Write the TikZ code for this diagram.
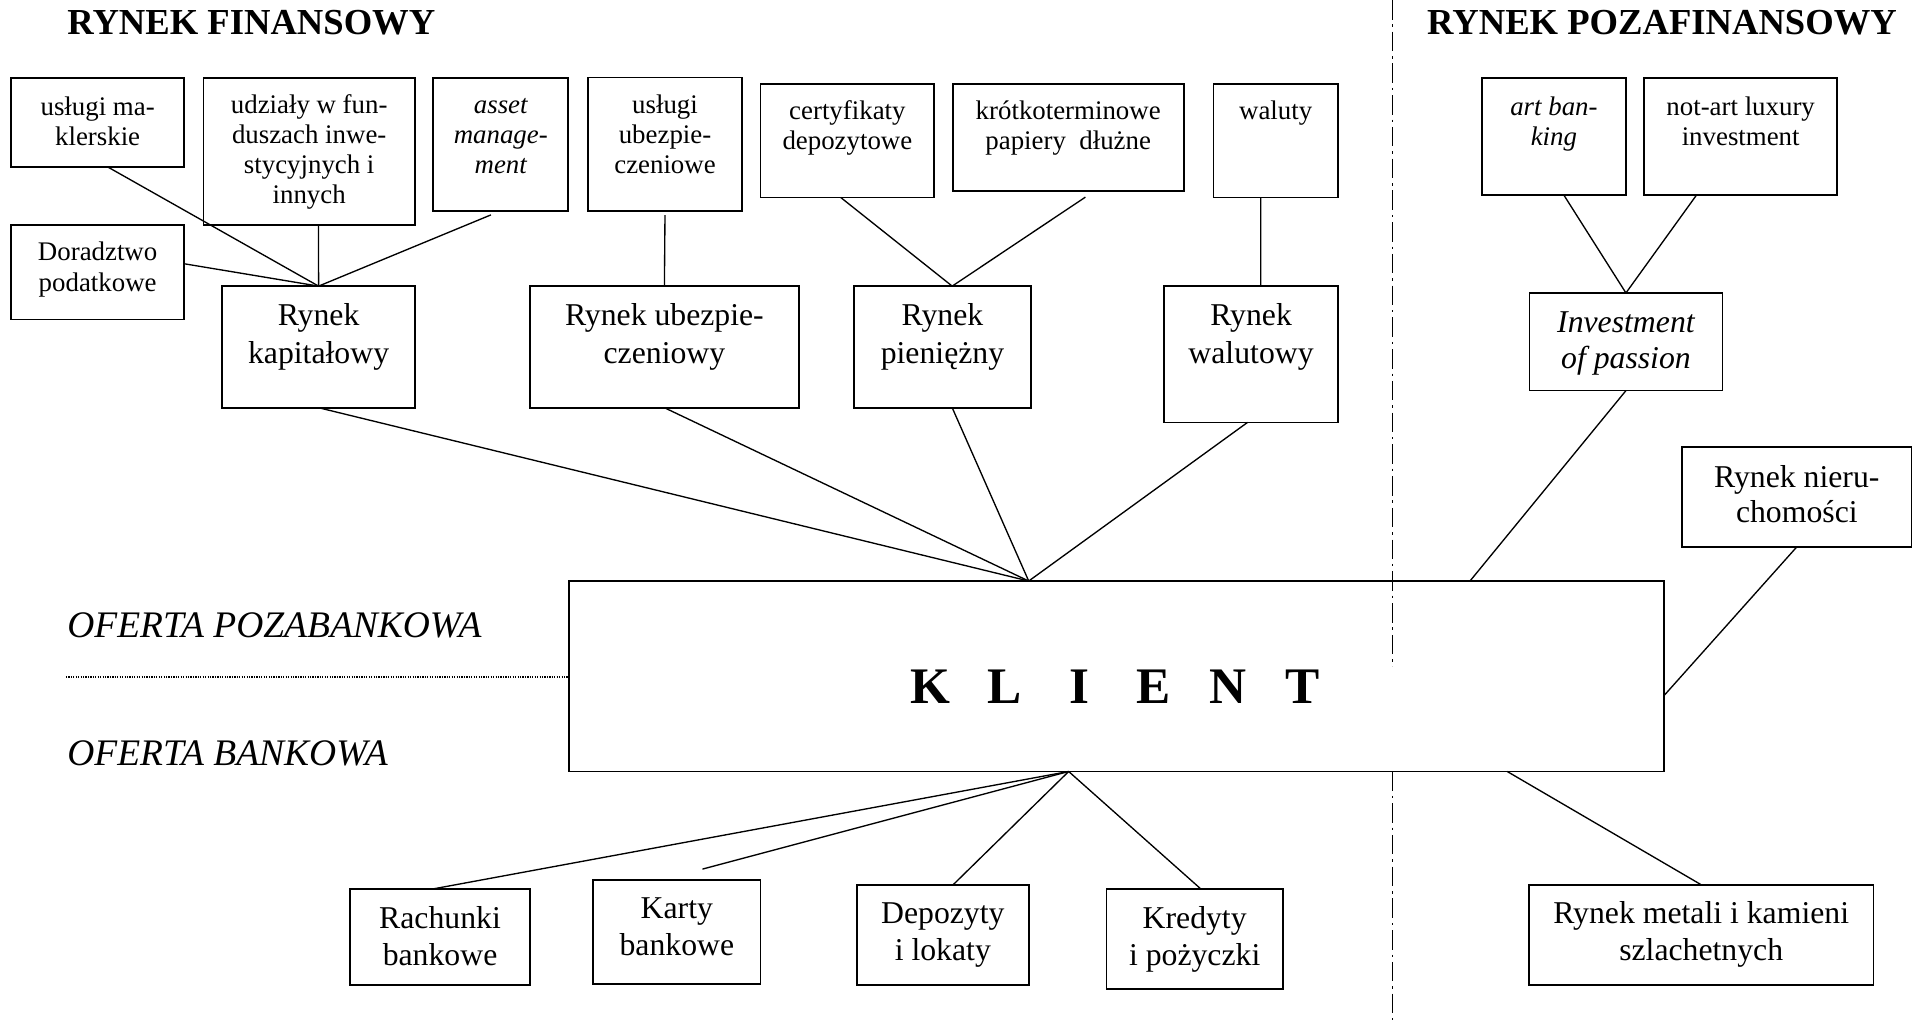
\documentclass[tikz,border=0pt]{standalone}
\usepackage{fontspec}
\setmainfont{Liberation Serif}
\usetikzlibrary{calc}
\newcommand\fsm{\fontsize{22}{24.5}\selectfont}
\newcommand\fdor{\fontsize{22}{25.5}\selectfont}
\newcommand\flg{\fontsize{26}{31.4}\selectfont}
\newcommand\fbt{\fontsize{26}{30}\selectfont}
\newcommand\fttl{\fontsize{30}{36}\selectfont\bfseries}
\newcommand\fofr{\fontsize{30.7}{36}\selectfont\itshape}
\newcommand\fkl{\fontsize{42}{50}\selectfont\bfseries}
% name, x1, y1, x2, y2, first-baseline offset, text
\newcommand\bx[7]{%
  \node[boxst, anchor=north west] (#1) at (#2,#3)
  {\parbox[t][\dimexpr#5pt-#3pt\relax][t]{\dimexpr#4pt-#2pt\relax}{\centering\rule{0pt}{#6pt}#7\par}};}
\tikzset{
  boxst/.style={draw, line width=1.4pt, inner sep=0pt, outer sep=0pt},
  conn/.style={line width=1.1pt},
  dashdotline/.style={line width=1pt, dash pattern=on 16pt off 4pt on 2pt off 4pt},
  dotline/.style={line width=1pt, dash pattern=on 1pt off 1pt},
  lbl/.style={anchor=base west, inner sep=0pt}
}
\begin{document}
\begin{tikzpicture}[x=1pt, y=-1pt]
\useasboundingbox (0,0) rectangle (1568,836);

% titles and side labels
\node[lbl] (t1) at (55,28.5) {\fttl RYNEK FINANSOWY};
\node[lbl] (t2) at (1169,28.5) {\fttl RYNEK POZAFINANSOWY};
\node[lbl] (of1) at (55,522) {\fofr OFERTA POZABANKOWA};
\node[lbl] (of2) at (55,627.5) {\fofr OFERTA BANKOWA};

% top row
\bx{mak}{9}{64}{151}{137}{30.3}{\fsm usługi ma-\\klerskie}
\bx{udz}{166.6}{64}{340}{184.4}{28.9}{\fsm udziały w fun-\\duszach inwe-\\stycyjnych i\\innych}
\bx{ast}{355}{64}{465.5}{172.7}{29}{\fsm\itshape asset\\manage-\\ment}
\bx{ubu}{481.6}{63.4}{608}{172.7}{29.5}{\fsm usługi\\ubezpie-\\czeniowe}
\bx{cert}{623}{68.8}{765.4}{161.7}{29.5}{\fsm certyfikaty\\depozytowe}
\bx{krot}{780.5}{68.8}{969.7}{156.6}{29.5}{\fsm krótkoterminowe\\papiery\ \ dłużne}
\bx{wal}{994.2}{68.8}{1096}{161.7}{29.5}{\fsm waluty}
\bx{dor}{9}{184.4}{151}{261.7}{28.6}{\fdor Doradztwo\\podatkowe}

% markets
\bx{kap}{182}{234.4}{340}{334}{32}{\flg Rynek\\kapitałowy}
\bx{ubk}{434.3}{234.4}{654.3}{334}{32}{\flg Rynek ubezpie-\\czeniowy}
\bx{pien}{699.7}{234.4}{844.5}{334}{32}{\flg Rynek\\pieniężny}
\bx{walk}{953.8}{234.4}{1096}{346}{32}{\flg Rynek\\walutowy}

% non-financial
\bx{art}{1214}{64}{1332}{160}{31}{\fsm\itshape art ban-\\king}
\bx{notart}{1347}{64}{1505}{160}{31}{\fsm not-art luxury\\investment}
\bx{inv}{1253}{240}{1411}{320}{32}{\fontsize{26}{30}\selectfont\itshape Investment\\of passion}
\bx{nier}{1378}{366}{1566}{448}{33}{\fontsize{26}{29}\selectfont Rynek nieru-\\chomości}

% client
\bx{klient}{466}{476}{1363}{632}{100.4}{\fkl\makebox[61pt]{K}\makebox[61pt]{L}\makebox[61pt]{I}\makebox[61pt]{E}\makebox[61pt]{N}\makebox[61pt]{T}}

% bank offer
\bx{rach}{287}{728}{434}{806.8}{33}{\fbt Rachunki\\bankowe}
\bx{karty}{486}{721}{623}{806}{31.7}{\fbt Karty\\bankowe}
\bx{dep}{702}{724.8}{842.8}{806.8}{32}{\fbt Depozyty\\i lokaty}
\bx{kred}{906.4}{728}{1051}{810}{33}{\fbt Kredyty\\i pożyczki}
\bx{metal}{1252.4}{724.8}{1534.9}{806.8}{32}{\fbt Rynek metali i kamieni\\szlachetnych}

% separators
\coordinate (v1) at (1141,0);
\coordinate (v2) at (1141,546);
\coordinate (v3) at (1141,632);
\coordinate (v4) at (1141,836);
\draw[dashdotline] (v1) -- (v2) (v3) -- (v4);
\coordinate (d1) at (54,554.6);
\draw[dotline] (d1) -- (d1 -| klient.west);

% connectors: capital market
\draw[conn] ($(mak.south west)!0.561!(mak.south east)$) -- (kap.north);
\draw[conn] ($(dor.north east)!0.41!(dor.south east)$) -- (kap.north);
\draw[conn] ($(udz.south west)!0.544!(udz.south east)$) -- (kap.north);
\draw[conn, shorten <=8.75pt] (ast.south) -- (kap.north);
% insurance
\draw[conn, shorten <=3.5pt] (ubu.south) -- (ubk.north);
% money market
\coordinate (pn) at ($(pien.north west)!0.555!(pien.north east)$);
\draw[conn] ($(cert.south west)!0.461!(cert.south east)$) -- (pn);
\draw[conn, shorten <=8.8pt] ($(krot.south west)!0.613!(krot.south east)$) -- (pn);
% currency
\draw[conn] ($(wal.south west)!0.38!(wal.south east)$) -- ($(walk.north west)!0.556!(walk.north east)$);
% to client (top)
\coordinate (kt) at ($(klient.north west)!0.42!(klient.north east)$);
\draw[conn] (kap.south) -- (kt);
\draw[conn] (ubk.south) -- (kt);
\draw[conn] ($(pien.south west)!0.555!(pien.south east)$) -- (kt);
\draw[conn] ($(walk.south west)!0.48!(walk.south east)$) -- (kt);
% non-financial
\draw[conn] ($(art.south west)!0.57!(art.south east)$) -- (inv.north);
\draw[conn] ($(notart.south west)!0.27!(notart.south east)$) -- (inv.north);
\draw[conn] (inv.south) -- ($(klient.north west)!0.823!(klient.north east)$);
\draw[conn] (nier.south) -- ($(klient.north east)!0.603!(klient.south east)$);
% bank offer
\coordinate (kb) at ($(klient.south west)!0.4565!(klient.south east)$);
\draw[conn] (kb) -- ($(rach.north west)!0.469!(rach.north east)$);
\draw[conn, shorten >=35pt] (kb) -- ($(karty.north west)!0.406!(karty.north east)$);
\draw[conn] (kb) -- ($(dep.north west)!0.56!(dep.north east)$);
\draw[conn] (kb) -- ($(kred.north west)!0.533!(kred.north east)$);
\draw[conn] ($(klient.south west)!0.857!(klient.south east)$) -- (metal.north);
\end{tikzpicture}
\end{document}
